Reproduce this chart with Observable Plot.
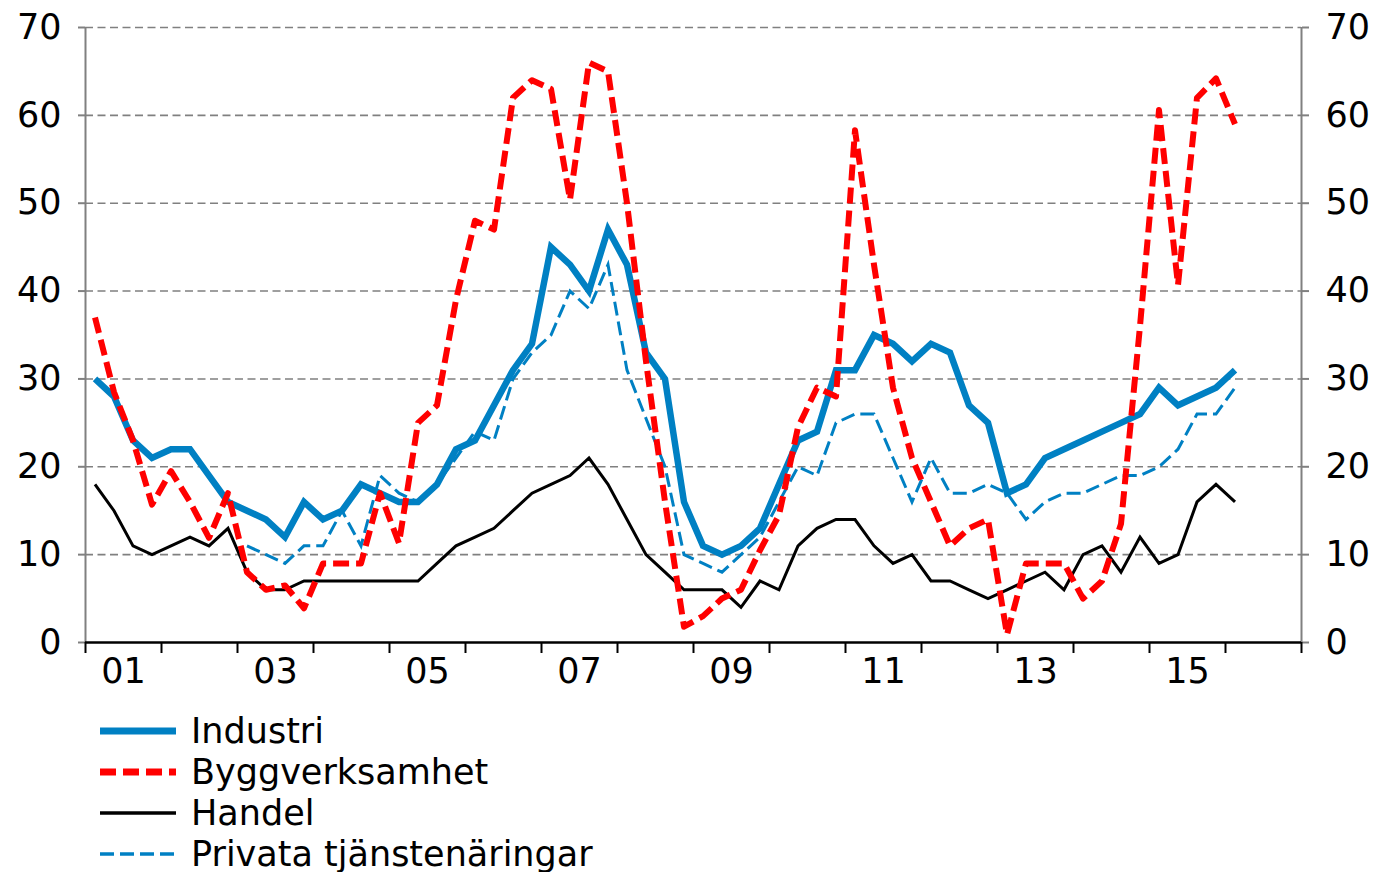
<!DOCTYPE html>
<html>
<head>
<meta charset="utf-8">
<script src="https://cdn.jsdelivr.net/npm/d3@7"></script>
<script src="https://cdn.jsdelivr.net/npm/@observablehq/plot@0.6"></script>
<style>
  html, body { margin: 0; padding: 0; background: #fff; }
  body { width: 1378px; height: 872px; overflow: hidden; font-family: "DejaVu Sans", Verdana, sans-serif; }
  #chart svg { display: block; }
  #legend { margin-left: 100px; font-size: 35px; color: #000; }
  .row { display: flex; align-items: center; height: 41px; white-space: nowrap; }
  .row svg { display: block; margin-right: 15px; }
</style>
</head>
<body>
<div id="chart"></div>
<div id="legend"></div>
<script>
// Quarters 2001Q1 .. 2016Q1
const quarters = [
  "2001Q1","2001Q2","2001Q3","2001Q4","2002Q1","2002Q2","2002Q3","2002Q4",
  "2003Q1","2003Q2","2003Q3","2003Q4","2004Q1","2004Q2","2004Q3","2004Q4",
  "2005Q1","2005Q2","2005Q3","2005Q4","2006Q1","2006Q2","2006Q3","2006Q4",
  "2007Q1","2007Q2","2007Q3","2007Q4","2008Q1","2008Q2","2008Q3","2008Q4",
  "2009Q1","2009Q2","2009Q3","2009Q4","2010Q1","2010Q2","2010Q3","2010Q4",
  "2011Q1","2011Q2","2011Q3","2011Q4","2012Q1","2012Q2","2012Q3","2012Q4",
  "2013Q1","2013Q2","2013Q3","2013Q4","2014Q1","2014Q2","2014Q3","2014Q4",
  "2015Q1","2015Q2","2015Q3","2015Q4","2016Q1"
];

const industri = [
  30, 28, 23, 21, 22, 22, 19, 16,
  15, 14, 12, 16, 14, 15, 18, 17,
  16, 16, 18, 22, 23, 27, 31, 34,
  45, 43, 40, 47, 43, 33, 30, 16,
  11, 10, 11, 13, 18, 23, 24, 31,
  31, 35, 34, 32, 34, 33, 27, 25,
  17, 18, 21, 22, 23, 24, 25, 26,
  29, 27, 28, 29, 31
];

const byggverksamhet = [
  37, 28.5, 23, 15.7, 19.5, 16, 11.9, 17,
  8, 6, 6.5, 3.9, 9, 9, 9, 17,
  11.3, 25, 27, 39, 48, 47, 62, 64,
  63, 50.4, 66, 65, 50, 32, 16, 1.8,
  3, 5, 6, 10.5, 14.5, 24.5, 29, 28,
  58.3, 43, 29, 21, 16, 11, 13, 14,
  0.9, 9, 9, 9, 5, 7, 13.5, 36,
  60.6, 40.7, 62, 64.2, 59
];

const handel = [
  18, 15, 11, 10, 11, 12, 11, 13,
  8, 6, 6, 7, 7, 7, 7, 7,
  7, 7, 9, 11, 12, 13, 15, 17,
  18, 19, 21, 18, 14, 10, 8, 6,
  6, 6, 4, 7, 6, 11, 13, 14,
  14, 11, 9, 10, 7, 7, 6, 5,
  6, 7, 8, 6, 10, 11, 8, 12,
  9, 10, 16, 18, 16
];

const privata = [
  null, null, null, null, null, null, null, null,
  11, 10, 9, 11, 11, 15, 11, 19,
  17, 16, 18, 21, 24, 23, 30, 33,
  35, 40, 38, 43, 31, 25.5, 20, 10,
  9, 8, 10, 12, 16, 20, 19, 25,
  26, 26, 21, 16, 21, 17, 17, 18,
  17, 14, 16, 17, 17, 18, 19, 19,
  20, 22, 26, 26, 29
];

const yTicks = [0, 10, 20, 30, 40, 50, 60, 70];
const yearTicks = [2001, 2002, 2003, 2004, 2005, 2006, 2007, 2008, 2009, 2010, 2011, 2012, 2013, 2014, 2015, 2016, 2017];
const labelYears = [2001, 2003, 2005, 2007, 2009, 2011, 2013, 2015];
const labelTexts = ["01", "03", "05", "07", "09", "11", "13", "15"];

const seriesNames = ["Industri", "Byggverksamhet", "Handel", "Privata tjänstenäringar"];
const seriesColors = ["#0080c3", "#ff0000", "#000000", "#0080c3"];
const seriesWidths = [6.5, 6, 3, 3];
const seriesDash = [null, "16,7", null, "14,6"];

function qToX(q) {
  const y = +q.slice(0, 4), k = +q.slice(5);
  return y + (k - 0.5) / 4;
}

const rows = quarters.map((q, i) => ({
  x: qToX(q),
  industri: industri[i],
  bygg: byggverksamhet[i],
  handel: handel[i],
  privata: privata[i]
}));

const lineOpts = (key, idx, join) => ({
  x: "x", y: key,
  stroke: seriesColors[idx],
  strokeWidth: seriesWidths[idx],
  strokeDasharray: seriesDash[idx] || undefined,
  strokeLinejoin: join,
  strokeMiterlimit: 4,
  strokeLinecap: "butt",
  curve: "linear"
});

const chart = Plot.plot({
  width: 1378,
  height: 710,
  marginLeft: 85,
  marginRight: 77,
  marginTop: 27,
  marginBottom: 68,
  x: { type: "linear", domain: [2001, 2017], axis: null, label: null },
  y: { domain: [0, 70], axis: null, label: null },
  style: { fontFamily: "DejaVu Sans, Verdana, sans-serif", fontSize: "35px", background: "white", color: "black", overflow: "visible" },
  marks: [
    Plot.gridY(yTicks.filter(d => d > 0), { stroke: "#808080", strokeOpacity: 1, strokeWidth: 1.6, strokeDasharray: "8,4.5" }),
    Plot.ruleX([2001, 2017], { stroke: "#808080", strokeWidth: 2 }),
    Plot.axisY({ anchor: "left", label: null, ticks: yTicks, tickSize: 7, tickPadding: 17, stroke: "#808080", strokeWidth: 2, fill: "black", fontSize: 35, tickFormat: d => String(d) }),
    Plot.axisY({ anchor: "right", label: null, ticks: yTicks, tickSize: 7, tickPadding: 17, stroke: "#808080", strokeWidth: 2, fill: "black", fontSize: 35, tickFormat: d => String(d) }),
    Plot.axisX({ label: null, ticks: yearTicks, tickSize: 11, tickFormat: () => "", stroke: "black", strokeWidth: 2 }),
    Plot.axisX({ label: null, ticks: labelYears.map(y => y + 0.5), tickSize: 0, tickPadding: 16, fill: "black", fontSize: 35,
      tickFormat: d => labelTexts[labelYears.indexOf(Math.round(d - 0.5))] }),
    Plot.ruleY([0], { stroke: "black", strokeWidth: 2.5 }),
    Plot.line(rows, lineOpts("handel", 2, "miter")),
    Plot.line(rows, lineOpts("privata", 3, "miter")),
    Plot.line(rows, lineOpts("industri", 0, "miter")),
    Plot.line(rows, lineOpts("bygg", 1, "round"))
  ]
});
document.getElementById("chart").appendChild(chart);

// Legend below the chart
const legend = document.getElementById("legend");
seriesNames.forEach((name, i) => {
  const row = document.createElement("div");
  row.className = "row";
  const svg = d3.create("svg").attr("width", 76).attr("height", 12);
  svg.append("line")
    .attr("x1", 0).attr("x2", 76).attr("y1", 6).attr("y2", 6)
    .attr("stroke", seriesColors[i])
    .attr("stroke-width", i < 2 ? 7 : 3.5)
    .attr("stroke-dasharray", seriesDash[i])
    .attr("stroke-linecap", "butt");
  row.appendChild(svg.node());
  const span = document.createElement("span");
  span.textContent = name;
  row.appendChild(span);
  legend.appendChild(row);
});
</script>
</body>
</html>
